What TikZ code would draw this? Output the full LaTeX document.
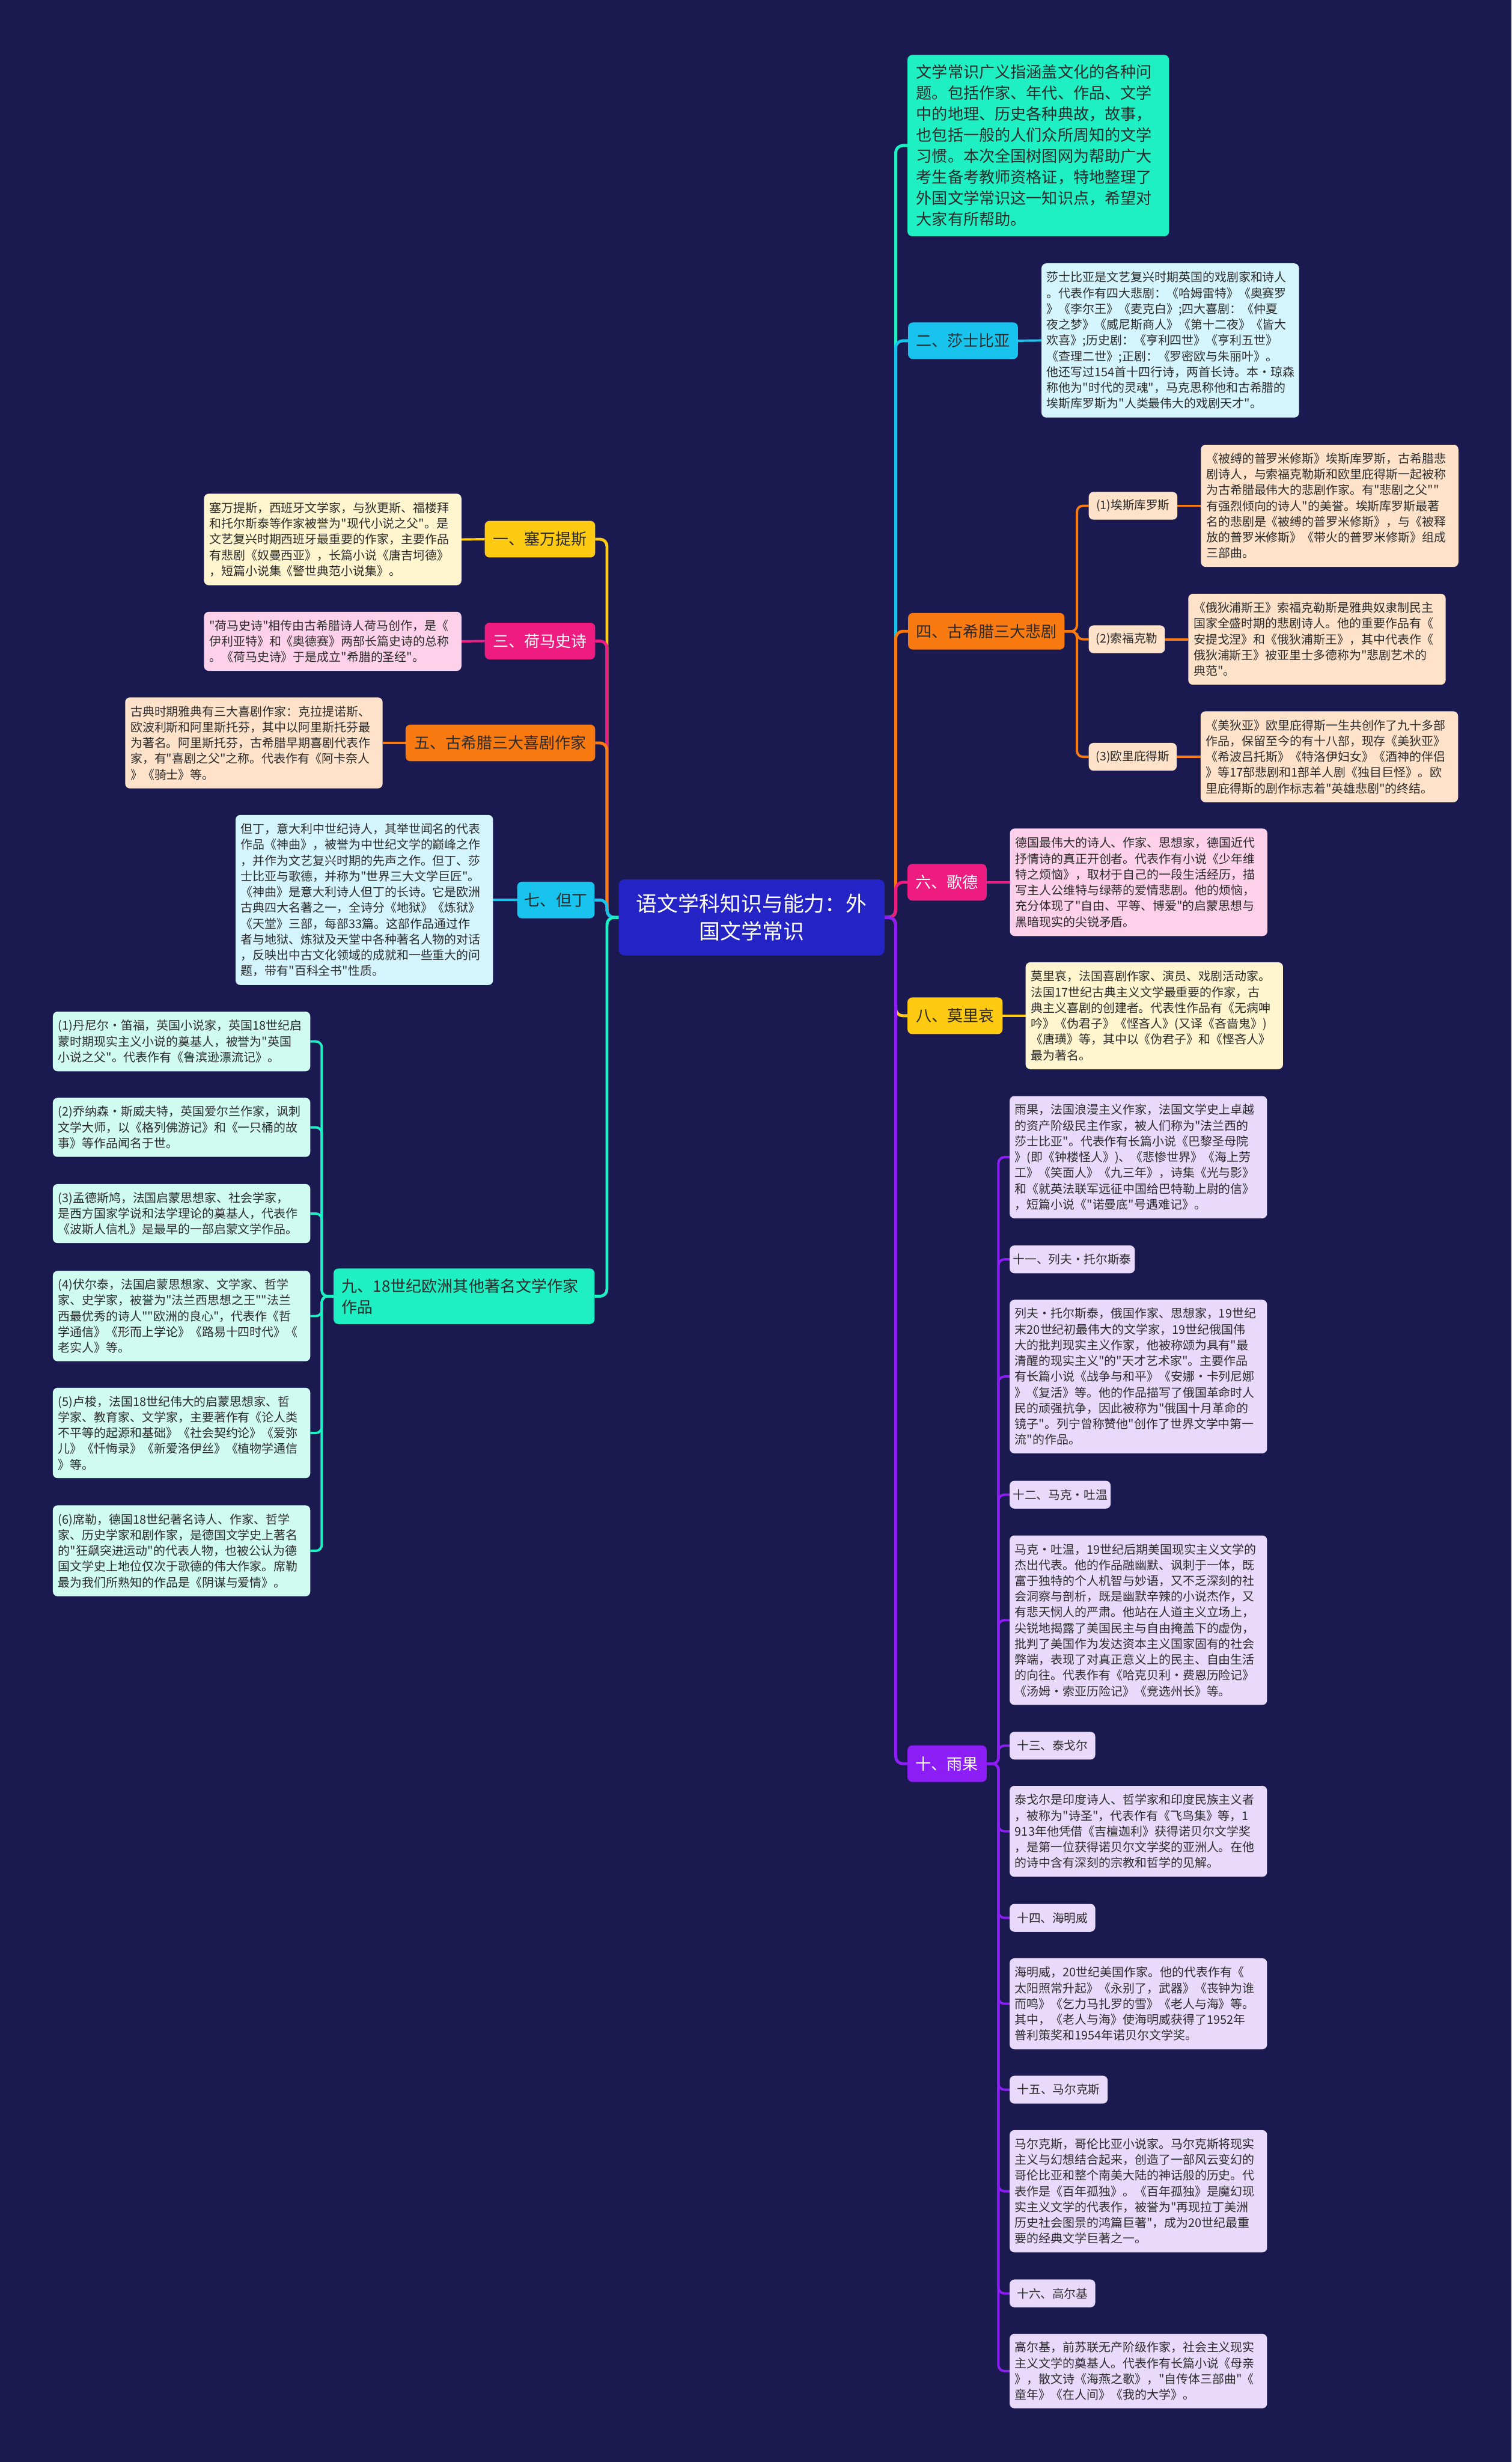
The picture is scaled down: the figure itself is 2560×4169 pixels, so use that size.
\documentclass[tikz,border=0pt]{standalone}
\usepackage{fontspec}
\setmainfont{Noto Sans CJK SC}
\newfontfamily\cjk{Noto Sans CJK SC}
\usetikzlibrary{backgrounds}
\definecolor{bgc}{HTML}{1B1A50}
\definecolor{rootc}{HTML}{2424C6}
\definecolor{tealc}{HTML}{1EF0C4}
\definecolor{cyanc}{HTML}{18C4EE}
\definecolor{lcyan}{HTML}{D4F5FD}
\definecolor{orangec}{HTML}{FA7A12}
\definecolor{peach}{HTML}{FEE3CA}
\definecolor{pinkc}{HTML}{EE1B80}
\definecolor{lpink}{HTML}{FDD1E9}
\definecolor{yellowc}{HTML}{FFCB12}
\definecolor{lyellow}{HTML}{FFF6CF}
\definecolor{purplec}{HTML}{8C1EF5}
\definecolor{lav}{HTML}{E9DAFC}
\definecolor{mint}{HTML}{CFFBF0}
\definecolor{txt}{HTML}{2B2B2B}
\begin{document}
\begin{tikzpicture}[x=1pt,y=-1pt,
  every node/.style={inner sep=0pt, outer sep=0pt},
  lbl/.style={rounded corners=8pt, minimum height=62pt, align=center, font=\cjk\fontsize{26.5}{32}\selectfont},
  sublbl/.style={rounded corners=8pt, minimum height=47pt, align=center, font=\cjk\fontsize{20}{24}\selectfont, text=txt},
  body/.style={rounded corners=8pt, inner xsep=9pt, align=left, text width=418pt, font=\cjk\fontsize{20.3}{26.7}\selectfont, text=txt},
  br/.style={line width=5pt, rounded corners=12pt},
  sb/.style={line width=4pt, rounded corners=10pt}
]
\useasboundingbox (0,0) rectangle (2560,4169);

% ---------- root ----------
\node[fill=rootc, rounded corners=10pt, minimum width=450pt, minimum height=129pt, text=white, align=center, font=\cjk\fontsize{35.5}{47}\selectfont] (root) at (1273,1553.5) {语文学科知识与能力：外\\国文学常识};

% ---------- right side ----------
\node[body, fill=tealc, text width=413pt, inner xsep=15pt, minimum height=307pt, font=\cjk\fontsize{26.6}{35.7}\selectfont] (intro) at (1758.5,246.5) {文学常识广义指涵盖文化的各种问\\题。包括作家、年代、作品、文学\\中的地理、历史各种典故，故事，\\也包括一般的人们众所周知的文学\\习惯。本次全国树图网为帮助广大\\考生备考教师资格证，特地整理了\\外国文学常识这一知识点，希望对\\大家有所帮助。};

\node[lbl, fill=cyanc, text=txt, minimum width=186pt] (n2) at (1631,577) {二、莎士比亚};
\node[body, fill=lcyan, minimum height=261pt] (c2) at (1982,576.5) {莎士比亚是文艺复兴时期英国的戏剧家和诗人\\。代表作有四大悲剧：《哈姆雷特》《奥赛罗\\》《李尔王》《麦克白》;四大喜剧：《仲夏\\夜之梦》《威尼斯商人》《第十二夜》《皆大\\欢喜》;历史剧：《亨利四世》《亨利五世》\\《查理二世》;正剧：《罗密欧与朱丽叶》。\\他还写过154首十四行诗，两首长诗。本·琼森\\称他为"时代的灵魂"，马克思称他和古希腊的\\埃斯库罗斯为"人类最伟大的戏剧天才"。};

\node[lbl, fill=orangec, text=txt, minimum width=265pt] (n4) at (1670.5,1069) {四、古希腊三大悲剧};
\node[sublbl, fill=peach, minimum width=150pt] (s41) at (1919,856.5) {(1)埃斯库罗斯};
\node[body, fill=peach, minimum height=207pt] (c41) at (2252,856.5) {《被缚的普罗米修斯》埃斯库罗斯，古希腊悲\\剧诗人，与索福克勒斯和欧里庇得斯一起被称\\为古希腊最伟大的悲剧作家。有"悲剧之父""\\有强烈倾向的诗人"的美誉。埃斯库罗斯最著\\名的悲剧是《被缚的普罗米修斯》，与《被释\\放的普罗米修斯》《带火的普罗米修斯》组成\\三部曲。};
\node[sublbl, fill=peach, minimum width=129pt] (s42) at (1908.5,1082.5) {(2)索福克勒};
\node[body, fill=peach, minimum height=154pt] (c42) at (2230.5,1082.5) {《俄狄浦斯王》索福克勒斯是雅典奴隶制民主\\国家全盛时期的悲剧诗人。他的重要作品有《\\安提戈涅》和《俄狄浦斯王》，其中代表作《\\俄狄浦斯王》被亚里士多德称为"悲剧艺术的\\典范"。};
\node[sublbl, fill=peach, minimum width=149pt] (s43) at (1918.5,1281.5) {(3)欧里庇得斯};
\node[body, fill=peach, minimum height=154pt] (c43) at (2251.5,1281.5) {《美狄亚》欧里庇得斯一生共创作了九十多部\\作品，保留至今的有十八部，现存《美狄亚》\\《希波吕托斯》《特洛伊妇女》《酒神的伴侣\\》等17部悲剧和1部羊人剧《独目巨怪》。欧\\里庇得斯的剧作标志着"英雄悲剧"的终结。};

\node[lbl, fill=pinkc, text=white, minimum width=134pt] (n6) at (1604,1494) {六、歌德};
\node[body, fill=lpink, minimum height=182pt] (c6) at (1928.5,1494) {德国最伟大的诗人、作家、思想家，德国近代\\抒情诗的真正开创者。代表作有小说《少年维\\特之烦恼》，取材于自己的一段生活经历，描\\写主人公维特与绿蒂的爱情悲剧。他的烦恼，\\充分体现了"自由、平等、博爱"的启蒙思想与\\黑暗现实的尖锐矛盾。};

\node[lbl, fill=yellowc, text=txt, minimum width=161pt] (n8) at (1617.5,1720) {八、莫里哀};
\node[body, fill=lyellow, minimum height=181pt] (c8) at (1955,1720) {莫里哀，法国喜剧作家、演员、戏剧活动家。\\法国17世纪古典主义文学最重要的作家，古\\典主义喜剧的创建者。代表性作品有《无病呻\\吟》《伪君子》《悭吝人》(又译《吝啬鬼》)\\《唐璜》等，其中以《伪君子》和《悭吝人》\\最为著名。};

\node[lbl, fill=purplec, text=white, minimum width=134pt] (n10) at (1604,2986.5) {十、雨果};
\node[body, fill=lav, minimum height=207pt] (c10) at (1928,1959.5) {雨果，法国浪漫主义作家，法国文学史上卓越\\的资产阶级民主作家，被人们称为"法兰西的\\莎士比亚"。代表作有长篇小说《巴黎圣母院\\》(即《钟楼怪人》)、《悲惨世界》《海上劳\\工》《笑面人》《九三年》，诗集《光与影》\\和《就英法联军远征中国给巴特勒上尉的信》\\，短篇小说《"诺曼底"号遇难记》。};
\node[sublbl, fill=lav, minimum width=212pt] (s11) at (1816,2132.5) {十一、列夫·托尔斯泰};
\node[body, fill=lav, minimum height=260pt] (c11) at (1928,2331) {列夫·托尔斯泰，俄国作家、思想家，19世纪\\末20世纪初最伟大的文学家，19世纪俄国伟\\大的批判现实主义作家，他被称颂为具有"最\\清醒的现实主义"的"天才艺术家"。主要作品\\有长篇小说《战争与和平》《安娜·卡列尼娜\\》《复活》等。他的作品描写了俄国革命时人\\民的顽强抗争，因此被称为"俄国十月革命的\\镜子"。列宁曾称赞他"创作了世界文学中第一\\流"的作品。};
\node[sublbl, fill=lav, minimum width=171pt] (s12) at (1795.5,2531) {十二、马克·吐温};
\node[body, fill=lav, minimum height=287pt] (c12) at (1928,2743.5) {马克·吐温，19世纪后期美国现实主义文学的\\杰出代表。他的作品融幽默、讽刺于一体，既\\富于独特的个人机智与妙语，又不乏深刻的社\\会洞察与剖析，既是幽默辛辣的小说杰作，又\\有悲天悯人的严肃。他站在人道主义立场上，\\尖锐地揭露了美国民主与自由掩盖下的虚伪，\\批判了美国作为发达资本主义国家固有的社会\\弊端，表现了对真正意义上的民主、自由生活\\的向往。代表作有《哈克贝利·费恩历险记》\\《汤姆·索亚历险记》《竞选州长》等。};
\node[sublbl, fill=lav, minimum width=145pt] (s13) at (1782.5,2956) {十三、泰戈尔};
\node[body, fill=lav, minimum height=154pt] (c13) at (1928,3101) {泰戈尔是印度诗人、哲学家和印度民族主义者\\，被称为"诗圣"，代表作有《飞鸟集》等，1\\913年他凭借《吉檀迦利》获得诺贝尔文学奖\\，是第一位获得诺贝尔文学奖的亚洲人。在他\\的诗中含有深刻的宗教和哲学的见解。};
\node[sublbl, fill=lav, minimum width=145pt] (s14) at (1782.5,3247.5) {十四、海明威};
\node[body, fill=lav, minimum height=154pt] (c14) at (1928,3393) {海明威，20世纪美国作家。他的代表作有《\\太阳照常升起》《永别了，武器》《丧钟为谁\\而鸣》《乞力马扎罗的雪》《老人与海》等。\\其中，《老人与海》使海明威获得了1952年\\普利策奖和1954年诺贝尔文学奖。};
\node[sublbl, fill=lav, minimum width=166pt] (s15) at (1793,3538.5) {十五、马尔克斯};
\node[body, fill=lav, minimum height=207pt] (c15) at (1928,3710.5) {马尔克斯，哥伦比亚小说家。马尔克斯将现实\\主义与幻想结合起来，创造了一部风云变幻的\\哥伦比亚和整个南美大陆的神话般的历史。代\\表作是《百年孤独》。《百年孤独》是魔幻现\\实主义文学的代表作，被誉为"再现拉丁美洲\\历史社会图景的鸿篇巨著"，成为20世纪最重\\要的经典文学巨著之一。};
\node[sublbl, fill=lav, minimum width=145pt] (s16) at (1782.5,3883.5) {十六、高尔基};
\node[body, fill=lav, minimum height=126pt] (c16) at (1928,4015) {高尔基，前苏联无产阶级作家，社会主义现实\\主义文学的奠基人。代表作有长篇小说《母亲\\》，散文诗《海燕之歌》，"自传体三部曲"《\\童年》《在人间》《我的大学》。};

% ---------- left side ----------
\node[lbl, fill=yellowc, text=txt, minimum width=187pt] (n1) at (914.5,913) {一、塞万提斯};
\node[body, fill=lyellow, minimum height=155pt] (c1) at (563.5,913.5) {塞万提斯，西班牙文学家，与狄更斯、福楼拜\\和托尔斯泰等作家被誉为"现代小说之父"。是\\文艺复兴时期西班牙最重要的作家，主要作品\\有悲剧《奴曼西亚》，长篇小说《唐吉坷德》\\，短篇小说集《警世典范小说集》。};

\node[lbl, fill=pinkc, text=white, minimum width=187pt] (n3) at (914.5,1085.5) {三、荷马史诗};
\node[body, fill=lpink, minimum height=100pt] (c3) at (563.5,1086) {"荷马史诗"相传由古希腊诗人荷马创作，是《\\伊利亚特》和《奥德赛》两部长篇史诗的总称\\。《荷马史诗》于是成立"希腊的圣经"。};

\node[lbl, fill=orangec, text=txt, minimum width=321pt] (n5) at (847.5,1258) {五、古希腊三大喜剧作家};
\node[body, fill=peach, minimum height=154pt] (c5) at (430,1258) {古典时期雅典有三大喜剧作家：克拉提诺斯、\\欧波利斯和阿里斯托芬，其中以阿里斯托芬最\\为著名。阿里斯托芬，古希腊早期喜剧代表作\\家，有"喜剧之父"之称。代表作有《阿卡奈人\\》《骑士》等。};

\node[lbl, fill=cyanc, text=txt, minimum width=131pt] (n7) at (941.5,1524) {七、但丁};
\node[body, fill=lcyan, minimum height=288pt] (c7) at (617,1524) {但丁，意大利中世纪诗人，其举世闻名的代表\\作品《神曲》，被誉为中世纪文学的巅峰之作\\，并作为文艺复兴时期的先声之作。但丁、莎\\士比亚与歌德，并称为"世界三大文学巨匠"。\\《神曲》是意大利诗人但丁的长诗。它是欧洲\\古典四大名著之一，全诗分《地狱》《炼狱》\\《天堂》三部，每部33篇。这部作品通过作\\者与地狱、炼狱及天堂中各种著名人物的对话\\，反映出中古文化领域的成就和一些重大的问\\题，带有"百科全书"性质。};

\node[lbl, fill=tealc, text=txt, minimum height=94pt, text width=414pt, inner xsep=14pt, align=left, font=\cjk\fontsize{26.5}{35.7}\selectfont] (n9) at (786,2195) {九、18世纪欧洲其他著名文学作家\\作品};
\node[body, fill=mint, minimum height=101pt] (c91) at (307.5,1763.5) {(1)丹尼尔·笛福，英国小说家，英国18世纪启\\蒙时期现实主义小说的奠基人，被誉为"英国\\小说之父"。代表作有《鲁滨逊漂流记》。};
\node[body, fill=mint, minimum height=100pt] (c92) at (307.5,1909) {(2)乔纳森·斯威夫特，英国爱尔兰作家，讽刺\\文学大师，以《格列佛游记》和《一只桶的故\\事》等作品闻名于世。};
\node[body, fill=mint, minimum height=100pt] (c93) at (307.5,2055) {(3)孟德斯鸠，法国启蒙思想家、社会学家，\\是西方国家学说和法学理论的奠基人，代表作\\《波斯人信札》是最早的一部启蒙文学作品。};
\node[body, fill=mint, minimum height=153pt] (c94) at (307.5,2228.5) {(4)伏尔泰，法国启蒙思想家、文学家、哲学\\家、史学家，被誉为"法兰西思想之王""法兰\\西最优秀的诗人""欧洲的良心"，代表作《哲\\学通信》《形而上学论》《路易十四时代》《\\老实人》等。};
\node[body, fill=mint, minimum height=153pt] (c95) at (307.5,2426.5) {(5)卢梭，法国18世纪伟大的启蒙思想家、哲\\学家、教育家、文学家，主要著作有《论人类\\不平等的起源和基础》《社会契约论》《爱弥\\儿》《忏悔录》《新爱洛伊丝》《植物学通信\\》等。};
\node[body, fill=mint, minimum height=154pt] (c96) at (307.5,2626) {(6)席勒，德国18世纪著名诗人、作家、哲学\\家、历史学家和剧作家，是德国文学史上著名\\的"狂飙突进运动"的代表人物，也被公认为德\\国文学史上地位仅次于歌德的伟大作家。席勒\\最为我们所熟知的作品是《阴谋与爱情》。};

% ---------- connectors ----------
\begin{pgfonlayer}{background}
\fill[bgc] (0,0) rectangle (2560,4169);
% right
\draw[br, draw=tealc]   (root.east) -- ++(19,0) |- (intro.west);
\draw[br, draw=cyanc]   (root.east) -- ++(19,0) |- (n2.west);
\draw[br, draw=orangec] (root.east) -- ++(19,0) |- (n4.west);
\draw[br, draw=pinkc]   (root.east) -- ++(19,0) |- (n6.west);
\draw[br, draw=yellowc] (root.east) -- ++(19,0) |- (n8.west);
\draw[br, draw=purplec] (root.east) -- ++(19,0) |- (n10.west);
\draw[sb, draw=cyanc] (n2.east) -- (c2.west);
\draw[sb, draw=orangec] (n4.east) -- ++(21,0) |- (s41.west);
\draw[sb, draw=orangec] (n4.east) -- ++(21,0) |- (s42.west);
\draw[sb, draw=orangec] (n4.east) -- ++(21,0) |- (s43.west);
\draw[sb, draw=orangec] (s41.east) -- (c41.west);
\draw[sb, draw=orangec] (s42.east) -- (c42.west);
\draw[sb, draw=orangec] (s43.east) -- (c43.west);
\draw[sb, draw=pinkc] (n6.east) -- (c6.west);
\draw[sb, draw=yellowc] (n8.east) -- (c8.west);
\foreach \t in {c10,s11,c11,s12,c12,s13,c13,s14,c14,s15,c15,s16,c16}
  \draw[sb, draw=purplec] (n10.east) -- ++(20,0) |- (\t.west);
% left
\draw[br, draw=yellowc] (root.west) -- ++(-20,0) |- (n1.east);
\draw[br, draw=pinkc]   (root.west) -- ++(-20,0) |- (n3.east);
\draw[br, draw=orangec] (root.west) -- ++(-20,0) |- (n5.east);
\draw[br, draw=cyanc]   (root.west) -- ++(-20,0) |- (n7.east);
\draw[br, draw=tealc]   (root.west) -- ++(-20,0) |- (n9.east);
\draw[sb, draw=yellowc] (n1.west) -- (c1.east);
\draw[sb, draw=pinkc] (n3.west) -- (c3.east);
\draw[sb, draw=orangec] (n5.west) -- (c5.east);
\draw[sb, draw=cyanc] (n7.west) -- (c7.east);
\foreach \t in {c91,c92,c93,c94,c95,c96}
  \draw[sb, draw=tealc] (n9.west) -- ++(-20,0) |- (\t.east);
\end{pgfonlayer}
\end{tikzpicture}
\end{document}
